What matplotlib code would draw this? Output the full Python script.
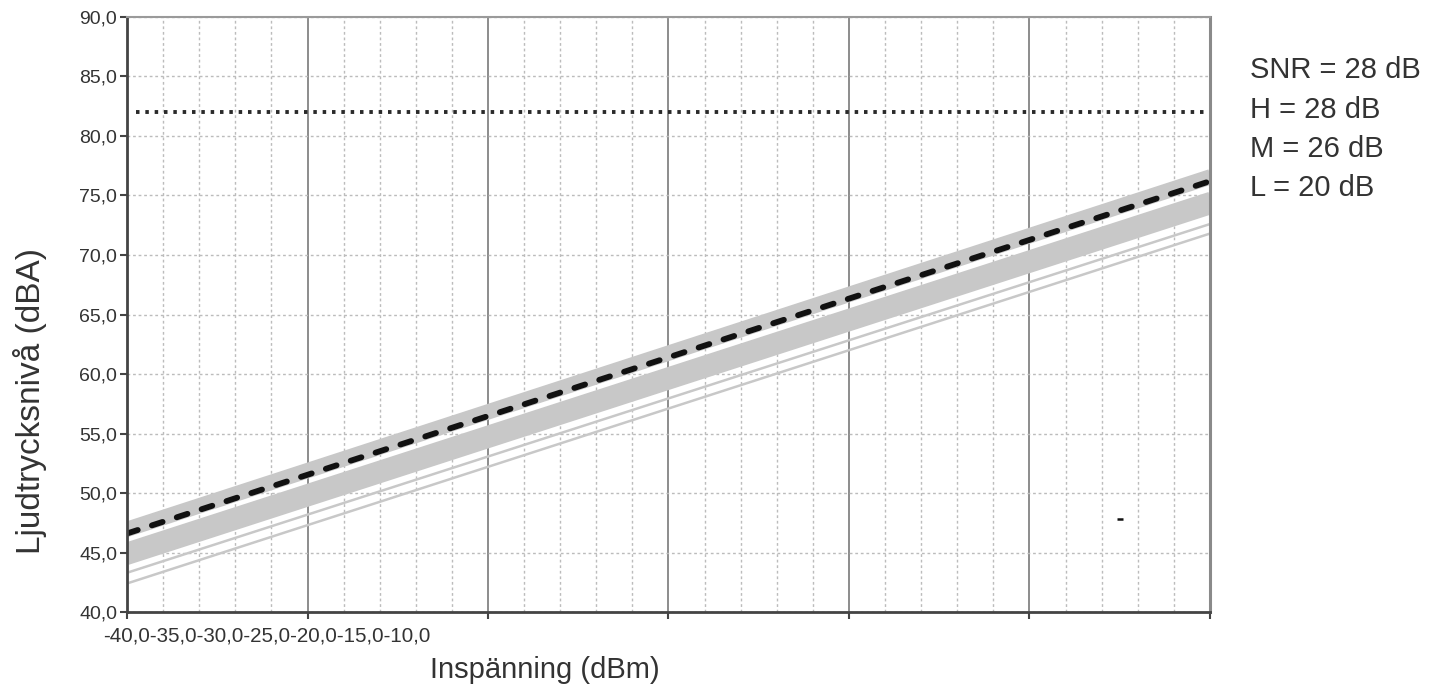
import matplotlib
matplotlib.use("Agg")
import matplotlib.pyplot as plt
from matplotlib.ticker import MultipleLocator

plt.rcParams['font.family'] = ['Liberation Sans', 'DejaVu Sans']

# x range of the measurement lines (dBm)
x_span = [-40, 20]

# gray lines: value at left end, value at right end, width
gray_left = [47.2, 46.7, 45.45, 44.9, 44.35, 43.3, 42.4]
gray_right = [76.8, 76.3, 74.9, 74.3, 73.8, 72.6, 71.8]
gray_width = [7, 7, 7, 7, 7, 1.8, 1.8]

# mean line (black dashed)
mean_line = [46.6, 76.2]

# reference level (dotted)
ref_level = 82.0

# stray mark
mark_x, mark_y = 15.0, 47.8

y_ticks = [40, 45, 50, 55, 60, 65, 70, 75, 80, 85, 90]
x_tick_labels = ["-40,0", "-35,0", "-30,0", "-25,0", "-20,0", "-15,0", "-10,0"]
notes = ["SNR = 28 dB", "H = 28 dB", "M = 26 dB", "L = 20 dB"]

fig = plt.figure(figsize=(14.29, 6.9), dpi=100)
ax = fig.add_axes([0.0889, 0.113, 0.7578, 0.8624])

ax.set_xlim(-40, 20)
ax.set_ylim(40, 90)

# grid
ax.xaxis.set_major_locator(MultipleLocator(10))
ax.xaxis.set_minor_locator(MultipleLocator(2))
ax.set_yticks(y_ticks)
ax.grid(which='major', axis='x', color='#8c8c8c', linewidth=1.4, linestyle='-')
ax.grid(which='minor', axis='x', color='#bcbcbc', linewidth=1.0, linestyle=(0, (2, 2)))
ax.grid(which='major', axis='y', color='#bcbcbc', linewidth=1.0, linestyle=(0, (2, 2)))
ax.set_axisbelow(True)

for lo, hi, w in zip(gray_left, gray_right, gray_width):
    ax.plot(x_span, [lo, hi], color='#c8c8c8', linewidth=w, solid_capstyle='butt')

ax.plot(x_span, mean_line, color='#111111', linewidth=4.2,
        linestyle=(0, (1.93, 2.55)), dash_capstyle='round')

ax.plot([-39.5, 19.7], [ref_level, ref_level], color='#2a2a2a', linewidth=2.8,
        linestyle=(0, (0.9, 1.5)), dash_capstyle='butt')

ax.plot([mark_x], [mark_y], marker='_', color='#111111', markersize=5, markeredgewidth=1.8)

# spines
for side in ['left', 'bottom']:
    ax.spines[side].set_color('#444444')
    ax.spines[side].set_linewidth(2)
ax.spines['top'].set_color('#9a9a9a')
ax.spines['top'].set_linewidth(1.5)
ax.spines['right'].set_color('#8a8a8a')
ax.spines['right'].set_linewidth(2.2)

ax.set_yticklabels([f"{v:.1f}".replace('.', ',') for v in y_ticks],
                   fontsize=14, color='#333333')
ax.tick_params(axis='y', which='major', length=5, width=1.5, color='#444444', pad=2)
ax.tick_params(axis='x', which='major', length=5, width=1.5, color='#444444', labelbottom=False)
ax.tick_params(axis='x', which='minor', length=0)

# squeezed x tick labels
fig.text(103 / 1429, 1 - 636 / 690, "".join(x_tick_labels), fontsize=14.8,
         color='#333333', ha='left', va='center')

fig.text(545 / 1429, 1 - 670 / 690, "Inspänning (dBm)", fontsize=21,
         color='#333333', ha='center', va='center')
fig.text(30 / 1429, 1 - 401 / 690, "Ljudtrycksnivå (dBA)", fontsize=24,
         color='#333333', ha='center', va='center', rotation=90)

for i, t in enumerate(notes):
    fig.text(1250 / 1429, 1 - (70 + i * 39.5) / 690, t, fontsize=21,
             color='#333333', ha='left', va='center')

fig.savefig("out.png", dpi=100)
